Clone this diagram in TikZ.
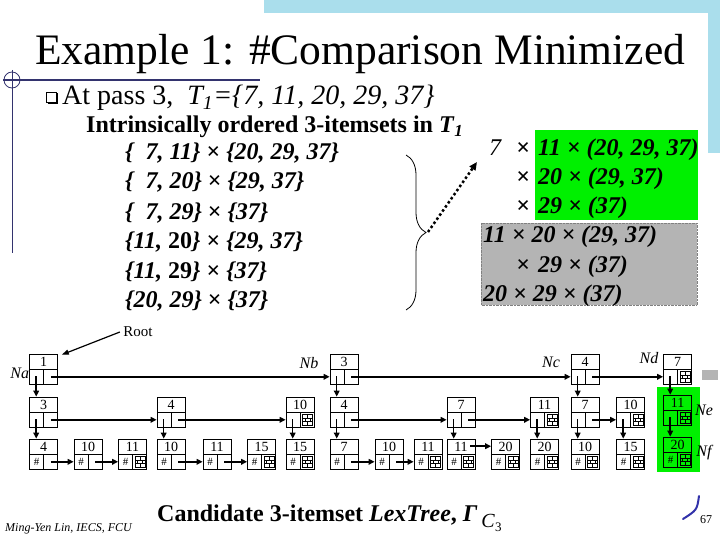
\documentclass[tikz,border=0pt]{standalone}
\usepackage{fontspec}
\setmainfont{Liberation Serif}
\usetikzlibrary{arrows.meta,decorations.pathreplacing}
\definecolor{slidenavy}{RGB}{51,51,110}
\definecolor{hlgreen}{RGB}{0,240,0}
\definecolor{boxgray}{RGB}{180,180,180}
\definecolor{dotcyan}{RGB}{170,222,236}
\definecolor{swooshblue}{RGB}{50,50,170}

\newcommand\fs[1]{\fontsize{#1}{#1}\selectfont}
% dividers of a LexTree node: item on top, two link cells below
\newcommand\boxlines{\draw[line width=0.6pt] (path picture bounding box.west) -- (path picture bounding box.east)
  (path picture bounding box.center) -- (path picture bounding box.south);}
\newcommand\hashmark{\node[font=\fs{11}, inner sep=0pt] at ([xshift=-7pt,yshift=7pt]path picture bounding box.south) {\#};}
% brick icon = empty link
\newcommand\brickfill{\coordinate (bk) at (path picture bounding box.south);
  \draw[line width=0.7pt] ([xshift=2.5pt,yshift=2pt]bk) rectangle ([xshift=12.5pt,yshift=12.5pt]bk)
    ([xshift=2.5pt,yshift=5.5pt]bk) -- ([xshift=12.5pt,yshift=5.5pt]bk)
    ([xshift=2.5pt,yshift=9pt]bk) -- ([xshift=12.5pt,yshift=9pt]bk)
    ([xshift=7.5pt,yshift=2pt]bk) -- ([xshift=7.5pt,yshift=5.5pt]bk)
    ([xshift=5pt,yshift=5.5pt]bk) -- ([xshift=5pt,yshift=9pt]bk)
    ([xshift=10pt,yshift=5.5pt]bk) -- ([xshift=10pt,yshift=9pt]bk)
    ([xshift=7.5pt,yshift=9pt]bk) -- ([xshift=7.5pt,yshift=12.5pt]bk);}

\begin{document}
\begin{tikzpicture}[x=1pt,y=1pt,
    lexbox/.style={draw, line width=0.6pt, inner sep=0pt, minimum width=28pt, minimum height=30pt,
                   path picture={\boxlines#1}},
    lexbox/.default={},
    num/.style={anchor=north, inner sep=0pt, yshift=-3pt, font=\fs{14}},
    link/.style={line width=1.5pt, -{Triangle[length=6pt,width=5.5pt]}},
    tag/.style={font=\fs{16}\itshape, inner sep=0pt},
    setrow/.style={anchor=base west, inner sep=0pt, font=\fs{24}\bfseries\itshape}
]
\useasboundingbox (0,0) rectangle (720,-540);

% slide frame
\fill[dotcyan] (264,0) rectangle (720,-13);
\fill[dotcyan] (708,0) rectangle (720,-153);
\draw[slidenavy, line width=2pt] (3,-80) -- (260,-80);
\draw[slidenavy, line width=0.8pt] (12,-70) -- (12,-253);
\draw[slidenavy, line width=0.8pt] (12,-80) circle (8);

\node[font=\fs{43.5}, anchor=base west, inner sep=0pt] (title) at (35,-65) {Example 1: \#Comparison Minimized};

% bullet text
\draw[line width=0.7pt] (46,-92) rectangle (56,-102);
\draw[line width=1.8pt] (47.5,-103.5) -- (57.5,-103.5) -- (57.5,-93.5);
\node[anchor=base west, inner sep=0pt, font=\fs{28}] (pass) at (62,-105)
  {At pass 3,\ \ \textit{T\textsubscript{1}=\{7, 11, 20, 29, 37\}}};
\node[anchor=base west, inner sep=0pt, font=\fs{24}\bfseries] (head) at (86,-133)
  {Intrinsically ordered 3-itemsets in \textit{T}\textsubscript{\textit{1}}};
\node[setrow] (s1) at (125,-160) {\{\phantom{1}7, 11\} {\upshape ×} \{20, 29, 37\}};
\node[setrow] (s2) at (125,-189) {\{\phantom{1}7, 20\} {\upshape ×} \{29, 37\}};
\node[setrow] (s3) at (125,-219) {\{\phantom{1}7, 29\} {\upshape ×} \{37\}};
\node[setrow] (s4) at (125,-248) {\{11, \textup{20}\} {\upshape ×} \{29, 37\}};
\node[setrow] (s5) at (125,-278) {\{11, \textup{29}\} {\upshape ×} \{37\}};
\node[setrow] (s6) at (125,-307) {\{20, 29\} {\upshape ×} \{37\}};
\draw[decorate, decoration={brace, amplitude=20pt}, line width=0.8pt] (406,-155) -- (406,-310);
\coordinate (bracetip) at (428,-232);
\coordinate (boxentry) at (477,-162);

% compact form
\fill[hlgreen] (535,-130) rectangle (698,-220);
\filldraw[fill=boxgray, draw=gray, densely dotted] (481,-223) rectangle (697,-305);
\node[setrow, font=\fs{24}\itshape] (c1) at (489,-156) {7};
\node[setrow] (c1x) at (516,-156) {×};
\node[setrow] (c1r) at (538,-156) {11 × (20, 29, 37)};
\node[setrow] (c2x) at (516,-185) {×};
\node[setrow] (c2r) at (538,-185) {20 × (29, 37)};
\node[setrow] (c3x) at (516,-214) {×};
\node[setrow] (c3r) at (538,-214) {29 × (37)};
\node[setrow] (c4) at (483,-243) {11 × 20 × (29, 37)};
\node[setrow] (c5x) at (516,-272) {×};
\node[setrow] (c5r) at (538,-272) {29 × (37)};
\node[setrow] (c6) at (483,-301) {20 × 29 × (37)};
\draw[line width=2.5pt, dash pattern=on 2.5pt off 2.5pt, -{Triangle[length=8pt,width=7pt]}]
  (bracetip) -- (boxentry);

% LexTree
\fill[hlgreen] (657,-387) rectangle (700,-472);
\fill[boxgray] (702,-370) rectangle (718,-380);
\node[font=\fs{15}] (root) at (138,-332) {Root};

\node[lexbox, label={[num]north:1}] (i1) at (43.5,-369) {};
\node[lexbox, label={[num]north:3}] (i3) at (344,-369) {};
\node[lexbox, label={[num]north:4}] (i4) at (585,-369) {};
\node[lexbox=\brickfill, label={[num]north:7}] (i7) at (677.5,-369) {};

\node[lexbox, label={[num]north:3}] (i13) at (43.5,-412) {};
\node[lexbox, label={[num]north:4}] (i14) at (171,-412) {};
\node[lexbox=\brickfill, label={[num]north:10}] (i110) at (300,-412) {};
\node[lexbox, label={[num]north:4}] (i34) at (344,-412) {};
\node[lexbox, label={[num]north:7}] (i37) at (461,-412) {};
\node[lexbox=\brickfill, label={[num]north:11}] (i311) at (544.5,-412) {};
\node[lexbox, label={[num]north:7}] (i47) at (585,-412) {};
\node[lexbox=\brickfill, label={[num]north:10}] (i410) at (630.5,-412) {};
\node[lexbox=\brickfill, label={[num]north:11}] (i711) at (677.5,-410) {};

\node[lexbox=\hashmark, label={[num]north:4}] (i134) at (43.5,-454) {};
\node[lexbox=\hashmark, label={[num]north:10}] (i1310) at (88,-454) {};
\node[lexbox=\hashmark\brickfill, label={[num]north:11}] (i1311) at (132.5,-454) {};
\node[lexbox=\hashmark, label={[num]north:10}] (i1410) at (171,-454) {};
\node[lexbox=\hashmark, label={[num]north:11}] (i1411) at (217,-454) {};
\node[lexbox=\hashmark\brickfill, label={[num]north:15}] (i1415) at (261.5,-454) {};
\node[lexbox=\hashmark\brickfill, label={[num]north:15}] (i11015) at (300,-454) {};
\node[lexbox=\hashmark, label={[num]north:7}] (i347) at (344,-454) {};
\node[lexbox=\hashmark, label={[num]north:10}] (i3410) at (389,-454) {};
\node[lexbox=\hashmark\brickfill, label={[num]north:11}] (i3411) at (428,-454) {};
\node[lexbox=\hashmark\brickfill, label={[num]north:11}] (i3711) at (461,-454) {};
\node[lexbox=\hashmark\brickfill, label={[num]north:20}] (i3720) at (505.5,-454) {};
\node[lexbox=\hashmark\brickfill, label={[num]north:20}] (i31120) at (544.5,-454) {};
\node[lexbox=\hashmark\brickfill, label={[num]north:10}] (i4710) at (585,-454) {};
\node[lexbox=\hashmark\brickfill, label={[num]north:15}] (i41015) at (630.5,-454) {};
\node[lexbox=\hashmark\brickfill, label={[num]north:20}] (i71120) at (677.5,-452) {};

\node[tag, anchor=east] (na) at (i1.west |- 0,-373) {Na};
\node[tag] (nb) at (309,-363) {Nb};
\node[tag] (nc) at (551,-362) {Nc};
\node[tag] (nd) at (649,-358) {Nd};
\node[tag] (ne) at (704,-410) {Ne};
\node[tag] (nf) at (704,-453) {Nf};

\draw[line width=1.2pt, -{Triangle[length=7pt,width=5pt]}] (root.west) -- ([xshift=4pt,yshift=-1pt]i1.north east);

% sibling links
\draw[link] ([xshift=-7pt,yshift=7.5pt]i1.south east) -- ([yshift=7.5pt]i3.south west);
\draw[link] ([xshift=-7pt,yshift=7.5pt]i3.south east) -- ([yshift=7.5pt]i4.south west);
\draw[link] ([xshift=-7pt,yshift=7.5pt]i4.south east) -- ([yshift=7.5pt]i7.south west);
\draw[link] ([xshift=-7pt,yshift=7.5pt]i13.south east) -- ([yshift=7.5pt]i14.south west);
\draw[link] ([xshift=-7pt,yshift=7.5pt]i14.south east) -- ([yshift=7.5pt]i110.south west);
\draw[link] ([xshift=-7pt,yshift=7.5pt]i34.south east) -- ([yshift=7.5pt]i37.south west);
\draw[link] ([xshift=-7pt,yshift=7.5pt]i37.south east) -- ([yshift=7.5pt]i311.south west);
\draw[link] ([xshift=-7pt,yshift=7.5pt]i47.south east) -- ([yshift=7.5pt]i410.south west);
\draw[link] ([xshift=-7pt,yshift=7.5pt]i134.south east) -- ([yshift=7.5pt]i1310.south west);
\draw[link] ([xshift=-7pt,yshift=7.5pt]i1310.south east) -- ([yshift=7.5pt]i1311.south west);
\draw[link] ([xshift=-7pt,yshift=7.5pt]i1410.south east) -- ([yshift=7.5pt]i1411.south west);
\draw[link] ([xshift=-7pt,yshift=7.5pt]i1411.south east) -- ([yshift=7.5pt]i1415.south west);
\draw[link] ([xshift=-7pt,yshift=7.5pt]i347.south east) -- ([yshift=7.5pt]i3410.south west);
\draw[link] ([xshift=-7pt,yshift=7.5pt]i3410.south east) -- ([yshift=7.5pt]i3411.south west);
\draw[link] ([xshift=-5pt,yshift=-7.5pt]i3711.north east) -- ([yshift=-7.5pt]i3720.north west);

% child links
\draw[link] ([xshift=7pt,yshift=8pt]i1.south west) -- ([xshift=7pt]i13.north west);
\draw[link] ([xshift=7pt,yshift=8pt]i3.south west) -- ([xshift=7pt]i34.north west);
\draw[link] ([xshift=7pt,yshift=8pt]i4.south west) -- ([xshift=7pt]i47.north west);
\draw[link] ([xshift=7pt,yshift=8pt]i7.south west) -- ([xshift=7pt]i711.north west);
\draw[link] ([xshift=7pt,yshift=8pt]i13.south west) -- ([xshift=7pt]i134.north west);
\draw[link] ([xshift=7pt,yshift=8pt]i14.south west) -- ([xshift=7pt]i1410.north west);
\draw[link] ([xshift=7pt,yshift=8pt]i110.south west) -- ([xshift=7pt]i11015.north west);
\draw[link] ([xshift=7pt,yshift=8pt]i34.south west) -- ([xshift=7pt]i347.north west);
\draw[link] ([xshift=7pt,yshift=8pt]i37.south west) -- ([xshift=7pt]i3711.north west);
\draw[link] ([xshift=7pt,yshift=8pt]i311.south west) -- ([xshift=7pt]i31120.north west);
\draw[link] ([xshift=7pt,yshift=8pt]i47.south west) -- ([xshift=7pt]i4710.north west);
\draw[link] ([xshift=7pt,yshift=8pt]i410.south west) -- ([xshift=7pt]i41015.north west);
\draw[link] ([xshift=7pt,yshift=8pt]i711.south west) -- ([xshift=7pt]i71120.north west);

% footer
\node[anchor=base west, inner sep=0pt, font=\fs{24}\bfseries] (caption) at (157,-521)
  {Candidate 3-itemset \textit{LexTree}, \textit{Γ}\,\raisebox{-6pt}{\mdseries\fs{20}\textit{C}\raisebox{-4pt}{\fs{13}3}}};
\node[anchor=base west, inner sep=0pt, font=\fs{12}\itshape] (author) at (5,-531) {Ming-Yen Lin, IECS, FCU};
\node[font=\fs{12}] (page) at (706,-520) {67};
\draw[swooshblue, line width=2pt, line cap=round] (699,-496) .. controls (697,-510) .. (683,-519);
\end{tikzpicture}
\end{document}
